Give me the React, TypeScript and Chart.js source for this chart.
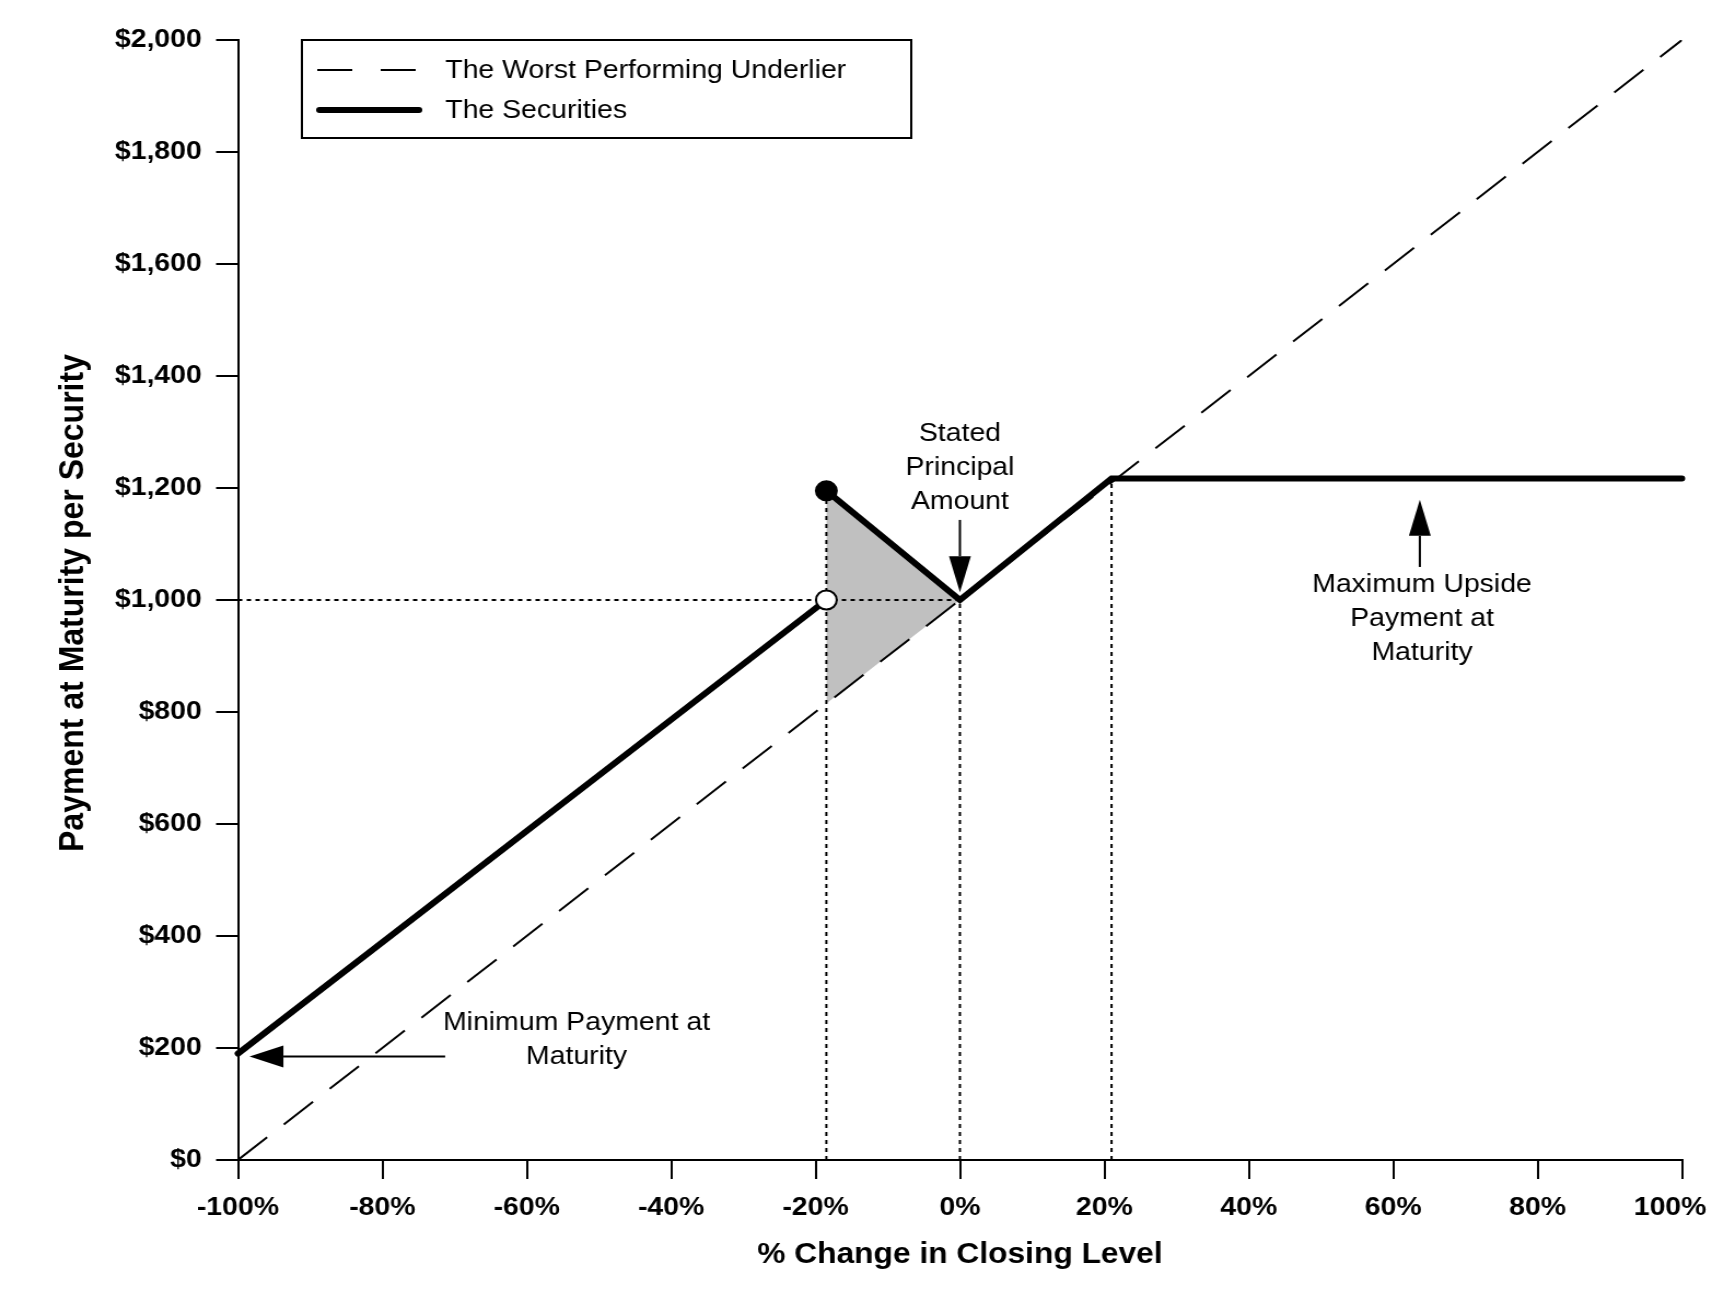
import { useEffect, useRef } from "react";
import { Chart, registerables } from "chart.js";

Chart.register(...registerables);

const FONT = "'Liberation Sans', Arial, Helvetica, sans-serif";
Chart.defaults.font.family = FONT;

// axis ticks
const xTicks = [-100, -80, -60, -40, -20, 0, 20, 40, 60, 80, 100];
const xTickLabels = ["-100%", "-80%", "-60%", "-40%", "-20%", "0%", "20%", "40%", "60%", "80%", "100%   "];
const yTicks = [0, 200, 400, 600, 800, 1000, 1200, 1400, 1600, 1800, 2000];
const yTickLabels = ["$0", "$200", "$400", "$600", "$800", "$1,000", "$1,200", "$1,400", "$1,600", "$1,800", "$2,000"];

// worst performing underlier (dashed)
const underlierX = [-100, 100];
const underlierY = [0, 2000];

// the securities (thick), null breaks the line at the buffer
const securitiesX = [-100, -18.5, -18.5, -18.5, 0, 21, 100];
const securitiesY = [190, 1000, null, 1195, 1000, 1217, 1217];

// filled / open dots at the buffer level
const markerX = [-18.5, -18.5];
const markerY = [1195, 1000];
const markerFill = ["#000000", "#ffffff"];

// grey triangle between the securities and the underlier
const shadeTopX = [-18.5, 0];
const shadeTopY = [1195, 1000];
const shadeBottomX = [-18.5, 0];
const shadeBottomY = [815, 1000];

// dotted guide lines
const guideX = [-18.5, -18.5, -18.5, 0, 0, 0, 21, 21, 21, -100, 0];
const guideY = [0, 1195, null, 0, 1000, null, 0, 1217, null, 1000, 1000];

// annotation arrows (tail -> tip) and notes
const arrowFromX = [-71.3, 0, 63.7];
const arrowFromY = [185, 1143, 1059];
const arrowToX = [-98.4, 0, 63.7];
const arrowToY = [185, 1014, 1179];
const noteX = [-53.1, 0, 64];
const noteTopY = [245, 1296, 1027];
const noteLines = [
  ["Minimum Payment at", "Maturity"],
  ["Stated", "Principal", "Amount"],
  ["Maximum Upside", "Payment at", "Maturity"],
];

const pts = (xs: number[], ys: (number | null)[]) => xs.map((x, i) => ({ x, y: ys[i] }));

const overlay = {
  id: "overlay",
  afterDatasetsDraw(chart: any) {
    const { ctx, chartArea, scales } = chart;
    const sx = scales.x;
    const sy = scales.y;
    ctx.save();
    ctx.fillStyle = "#000";
    ctx.strokeStyle = "#000";

    // arrows
    arrowFromX.forEach((_, i) => {
      const x0 = sx.getPixelForValue(arrowFromX[i]);
      const y0 = sy.getPixelForValue(arrowFromY[i]);
      const x1 = sx.getPixelForValue(arrowToX[i]);
      const y1 = sy.getPixelForValue(arrowToY[i]);
      const ang = Math.atan2(y1 - y0, x1 - x0);
      const horiz = Math.abs(y1 - y0) < 1;
      const hl = horiz ? 31 : 36;
      const hw = horiz ? 11 : 10;
      const bx = x1 - hl * Math.cos(ang);
      const by = y1 - hl * Math.sin(ang);
      ctx.lineWidth = 2;
      ctx.setLineDash([]);
      ctx.beginPath();
      ctx.moveTo(x0, y0);
      ctx.lineTo(bx, by);
      ctx.stroke();
      ctx.beginPath();
      ctx.moveTo(x1, y1);
      ctx.lineTo(bx + hw * Math.sin(ang), by - hw * Math.cos(ang));
      ctx.lineTo(bx - hw * Math.sin(ang), by + hw * Math.cos(ang));
      ctx.closePath();
      ctx.fill();
    });

    // notes
    ctx.font = `26px ${FONT}`;
    ctx.textAlign = "center";
    ctx.textBaseline = "middle";
    noteLines.forEach((lines, i) => {
      const cx = sx.getPixelForValue(noteX[i]);
      const cy = sy.getPixelForValue(noteTopY[i]);
      lines.forEach((t, j) => ctx.fillText(t, cx, cy + j * 34));
    });

    // axis titles
    ctx.font = `bold 29px ${FONT}`;
    ctx.fillText("% Change in Closing Level", (chartArea.left + chartArea.right) / 2, chartArea.bottom + 95);
    ctx.save();
    ctx.translate(67, (chartArea.top + chartArea.bottom) / 2 + 3);
    ctx.rotate(-Math.PI / 2);
    ctx.font = `bold 32px ${FONT}`;
    ctx.fillText("Payment at Maturity per Security", 0, 0);
    ctx.restore();

    // legend
    ctx.lineWidth = 2;
    ctx.strokeRect(276, 40, 557, 98);
    ctx.setLineDash([32, 26]);
    ctx.beginPath();
    ctx.moveTo(290, 70);
    ctx.lineTo(383, 70);
    ctx.stroke();
    ctx.setLineDash([]);
    ctx.lineWidth = 6;
    ctx.lineCap = "round";
    ctx.beginPath();
    ctx.moveTo(292, 110);
    ctx.lineTo(383, 110);
    ctx.stroke();
    ctx.font = `26px ${FONT}`;
    ctx.textAlign = "left";
    ctx.fillText("The Worst Performing Underlier", 407, 71);
    ctx.fillText("The Securities", 407, 111);
    ctx.restore();
  },
};

export default function App() {
  const canvasRef = useRef<HTMLCanvasElement>(null);
  const chartRef = useRef<Chart | null>(null);

  useEffect(() => {
    document.body.style.margin = "0";
    if (!canvasRef.current) return;
    chartRef.current?.destroy();
    chartRef.current = new Chart(canvasRef.current, {
      type: "scatter",
      data: {
        datasets: [
          {
            label: "markers",
            data: pts(markerX, markerY),
            showLine: false,
            pointRadius: 9.5,
            pointBackgroundColor: markerFill,
            pointBorderColor: "#000",
            pointBorderWidth: 2,
            order: 1,
          },
          {
            label: "The Securities",
            data: pts(securitiesX, securitiesY),
            showLine: true,
            spanGaps: false,
            borderColor: "#000",
            borderWidth: 6,
            borderCapStyle: "round",
            pointRadius: 0,
            clip: false,
            order: 2,
          },
          {
            label: "The Worst Performing Underlier",
            data: pts(underlierX, underlierY),
            showLine: true,
            borderColor: "#000",
            borderWidth: 2,
            borderDash: [35, 20],
            pointRadius: 0,
            order: 3,
          },
          {
            label: "guides",
            data: pts(guideX, guideY),
            showLine: true,
            spanGaps: false,
            borderColor: "#000",
            borderWidth: 2,
            borderDash: [4, 4],
            pointRadius: 0,
            order: 4,
          },
          {
            label: "shadeTop",
            data: pts(shadeTopX, shadeTopY),
            showLine: true,
            borderColor: "rgba(0,0,0,0)",
            backgroundColor: "#c0c0c0",
            fill: "+1",
            pointRadius: 0,
            order: 5,
          },
          {
            label: "shadeBottom",
            data: pts(shadeBottomX, shadeBottomY),
            showLine: true,
            borderColor: "rgba(0,0,0,0)",
            pointRadius: 0,
            order: 6,
          },
        ],
      },
      options: {
        animation: false,
        responsive: false,
        events: [],
        layout: { padding: { top: 40, right: 27.5, bottom: 0, left: 0 } },
        plugins: { legend: { display: false }, tooltip: { enabled: false } },
        scales: {
          x: {
            type: "linear",
            min: -100,
            max: 100,
            afterBuildTicks: (s: any) => {
              s.ticks = xTicks.map((v) => ({ value: v }));
            },
            afterFit: (s: any) => {
              s.height = 133;
              s.paddingLeft = 0;
              s.paddingRight = 0;
            },
            ticks: {
              callback: (_v: any, i: number) => xTickLabels[i],
              color: "#000",
              font: { size: 26, weight: "bold" },
              padding: 13,
              maxRotation: 0,
              autoSkip: false,
            },
            grid: { drawOnChartArea: false, drawTicks: true, tickLength: 19, color: "#000", lineWidth: 2 },
            border: { display: true, color: "#000", width: 2 },
          },
          y: {
            type: "linear",
            min: 0,
            max: 2000,
            afterBuildTicks: (s: any) => {
              s.ticks = yTicks.map((v) => ({ value: v }));
            },
            afterFit: (s: any) => {
              s.width = 217.5;
              s.paddingTop = 0;
              s.paddingBottom = 0;
            },
            ticks: {
              callback: (_v: any, i: number) => yTickLabels[i],
              color: "#000",
              font: { size: 26, weight: "bold" },
              padding: 13,
              autoSkip: false,
            },
            grid: { drawOnChartArea: false, drawTicks: true, tickLength: 20, color: "#000", lineWidth: 2 },
            border: { display: true, color: "#000", width: 2 },
          },
        },
      },
      plugins: [overlay],
    } as any);
    return () => chartRef.current?.destroy();
  }, []);

  return (
    <canvas
      ref={canvasRef}
      width={1565}
      height={1293}
      style={{ display: "block", width: "1712px", height: "1293px" }}
    />
  );
}
